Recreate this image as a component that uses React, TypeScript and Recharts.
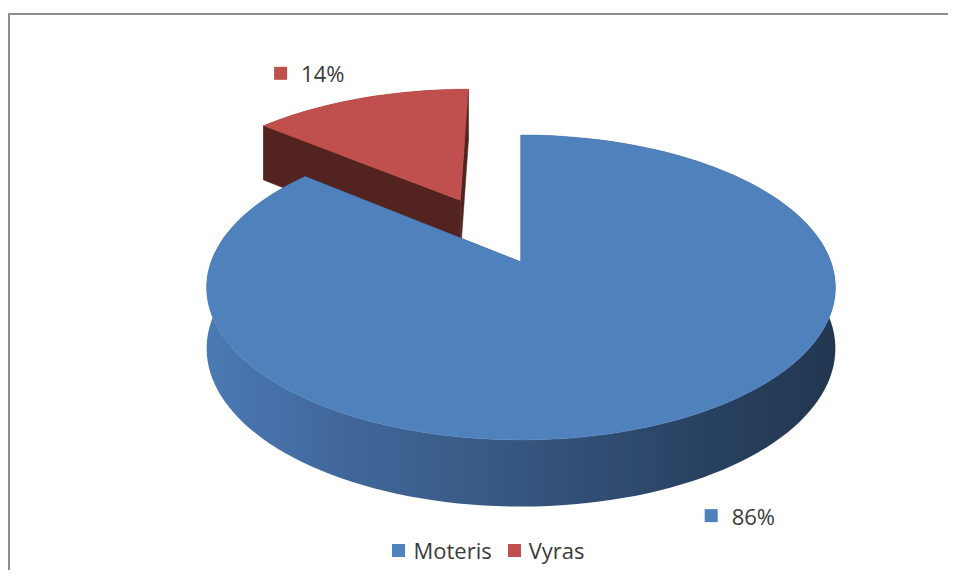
import { PieChart, Pie, Cell, Legend } from 'recharts';

const categories = ['Moteris', 'Vyras'];
const shares = [86, 14];

const COLORS: Record<string, string> = { Moteris: '#4f81bd', Vyras: '#c0504d' };
const WALL: Record<string, string> = { Moteris: '#2c4a72', Vyras: '#52231f' };
const EXPLODE: Record<string, number> = { Moteris: 0, Vyras: 0.495 };

const W = 946;
const H = 560;
const CX = 511;
const CY = 247;
const R = 315;
const FONT = "'Open Sans', sans-serif";
const TEXT = '#3a3a3a';
const LABEL_W = 73;

// fake 3D: the disc is squashed with a bit of perspective, then extruded downward
const HS = 0.984;
const VS = 0.4705;
const PERSP = 0.167;
const DEPTH = 60;
const DEPTH_PERSP = 0.1;

// Excel draws Moteris first, clockwise from 12 o'clock; the exploded slice sits
// behind it, so paint Vyras first and start it where Moteris would end
const total = shares.reduce((a, b) => a + b, 0);
const drawOrder = [1, 0];
const pieData = drawOrder.map((i) => ({ name: categories[i], value: shares[i] }));
const START = 90 + (360 * shares[1]) / total;

const rad = (d: number) => (d * Math.PI) / 180;

function proj(cx: number, cy: number, r: number, X: number, Z: number): [number, number] {
  const s = 1 / (1 + (PERSP * Z) / r);
  return [cx + HS * X * s, cy - VS * Z * s];
}

function depthAt(r: number, Z: number) {
  return DEPTH / (1 + (DEPTH_PERSP * Z) / r);
}

function Slice3D(props: any) {
  const { cx, cy, outerRadius: r, startAngle, endAngle } = props;
  const name = props.name ?? props.payload?.name;
  const fill = COLORS[name] ?? props.fill;
  const mid = (startAngle + endAngle) / 2;
  const e = (EXPLODE[name] || 0) * r;
  const ox = e * Math.cos(rad(mid));
  const oz = e * Math.sin(rad(mid));

  const steps = Math.max(2, Math.ceil(Math.abs(endAngle - startAngle) / 2));
  const top: [number, number][] = [];
  const bot: [number, number][] = [];
  for (let i = 0; i <= steps; i++) {
    const a = rad(startAngle + ((endAngle - startAngle) * i) / steps);
    const X = ox + r * Math.cos(a);
    const Z = oz + r * Math.sin(a);
    const [x, y] = proj(cx, cy, r, X, Z);
    top.push([x, y]);
    bot.push([x, y + depthAt(r, Z)]);
  }
  const [tx, ty] = proj(cx, cy, r, ox, oz);
  const tb = ty + depthAt(r, oz);
  const p = (pt: [number, number]) => `${pt[0].toFixed(2)},${pt[1].toFixed(2)}`;

  const last = top.length - 1;
  const edge1 = `M${tx},${ty} L${p(top[0])} L${p(bot[0])} L${tx},${tb} Z`;
  const edge2 = `M${tx},${ty} L${p(top[last])} L${p(bot[last])} L${tx},${tb} Z`;
  const wall = `M${top.map(p).join(' L')} L${[...bot].reverse().map(p).join(' L')} Z`;
  const face = `M${tx},${ty} L${top.map(p).join(' L')} Z`;
  const wallFill = name === 'Moteris' ? 'url(#sideBlue)' : WALL[name];

  return (
    <g>
      <path d={edge1} fill={WALL[name]} stroke={WALL[name]} strokeWidth={0.5} />
      <path d={edge2} fill={WALL[name]} stroke={WALL[name]} strokeWidth={0.5} />
      <path d={wall} fill={wallFill} />
      <path d={face} fill={fill} stroke={fill} strokeWidth={0.5} />
    </g>
  );
}

function renderLabel(props: any) {
  const { cx, cy, outerRadius: r, midAngle, percent } = props;
  const name = props.name ?? props.payload?.name;
  const m = rad(midAngle);
  const rho = (EXPLODE[name] || 0) * r + 1.15 * r;
  const X = rho * Math.cos(m);
  const Z = rho * Math.sin(m);
  const [x, y0] = proj(cx, cy, r, X, Z);
  const y = Z < 0 ? y0 + depthAt(r, Z) : y0 - 12;
  const left = Math.cos(m) >= 0 ? x : x - LABEL_W;
  return (
    <g key={`lbl-${name}`}>
      <rect x={left} y={y - 6.5} width={13} height={13} fill={COLORS[name]} />
      <text x={left + 27} y={y} dominantBaseline="central" fontFamily={FONT} fontSize={22} fill={TEXT}>
        {`${Math.round(percent * 100)}%`}
      </text>
    </g>
  );
}

function LegendRow() {
  return (
    <div
      style={{
        display: 'flex',
        justifyContent: 'center',
        alignItems: 'center',
        paddingLeft: 27,
        fontFamily: FONT,
        fontSize: 22,
        color: TEXT,
        lineHeight: '30px',
      }}
    >
      {categories.map((c) => (
        <div key={c} style={{ display: 'flex', alignItems: 'center', marginRight: 16 }}>
          <span style={{ width: 13, height: 13, background: COLORS[c], marginRight: 8, display: 'inline-block' }} />
          <span>{c}</span>
        </div>
      ))}
    </div>
  );
}

export default function App() {
  return (
    <div
      style={{
        position: 'relative',
        top: 5,
        width: W,
        height: H,
        overflow: 'hidden',
        borderTop: '2px solid #8e8e8e',
        borderLeft: '2px solid #8e8e8e',
        background: '#fff',
      }}
    >
      <PieChart width={W} height={H} margin={{ top: 0, right: 0, bottom: 0, left: 0 }}>
        <defs>
          <linearGradient id="sideBlue" gradientUnits="userSpaceOnUse" x1={CX - R} y1={0} x2={CX + R} y2={0}>
            <stop offset="0" stopColor="#4b7ab3" />
            <stop offset="0.2" stopColor="#42689c" />
            <stop offset="0.5" stopColor="#35567f" />
            <stop offset="0.75" stopColor="#2a4466" />
            <stop offset="1" stopColor="#22364f" />
          </linearGradient>
        </defs>
        <Pie
          data={pieData}
          dataKey="value"
          nameKey="name"
          cx={CX}
          cy={CY}
          outerRadius={R}
          startAngle={START}
          endAngle={START - 360}
          stroke="none"
          shape={Slice3D}
          label={renderLabel}
          labelLine={false}
          isAnimationActive={false}
        >
          {pieData.map((d) => (
            <Cell key={d.name} fill={COLORS[d.name]} />
          ))}
        </Pie>
        <Legend
          verticalAlign="bottom"
          wrapperStyle={{ top: 520, left: 0, bottom: 'auto', width: W }}
          content={() => <LegendRow />}
        />
      </PieChart>
    </div>
  );
}
